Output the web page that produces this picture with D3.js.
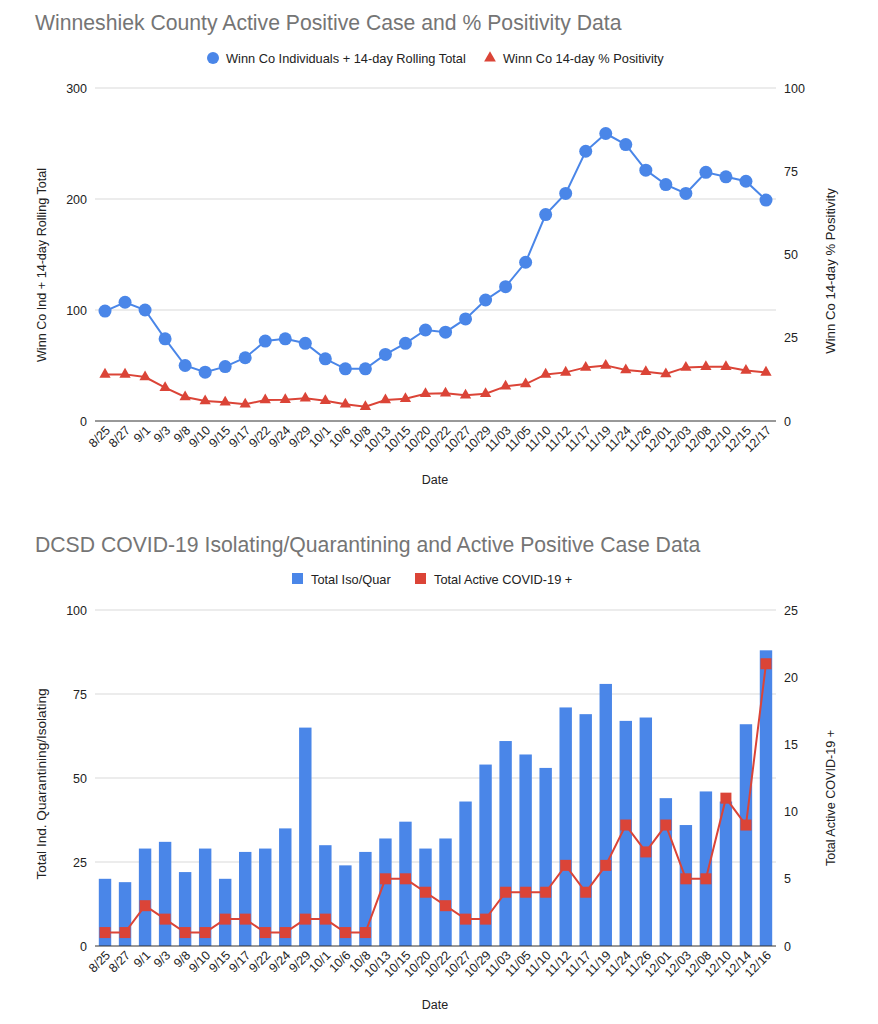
<!DOCTYPE html>
<html><head><meta charset="utf-8">
<script src="https://cdn.jsdelivr.net/npm/d3@7"></script>
<style>body{margin:0;background:#fff}svg{display:block;font-family:"Liberation Sans",Arial,sans-serif}</style>
</head><body><svg id="c" width="878" height="1024"></svg>
<script>
// ---- Top chart data ----
const datesTop = ["8/25","8/27","9/1","9/3","9/8","9/10","9/15","9/17","9/22","9/24","9/29","10/1","10/6","10/8","10/13","10/15","10/20","10/22","10/27","10/29","11/03","11/05","11/10","11/12","11/17","11/19","11/24","11/26","12/01","12/03","12/08","12/10","12/15","12/17"];
const rollingTotal = [99,107,100,74,50,44,49,57,72,74,70,56,47,47,60,70,82,80,92,109,121,143,186,205,243,259,249,226,213,205,224,220,216,199];
const positivity = [14,14,13.2,10,7.2,6,5.6,5,6.3,6.4,6.8,6.1,5,4.3,6.3,6.7,8.2,8.3,7.7,8.2,10.4,11.1,14,14.6,16.1,16.7,15.3,14.8,14.1,16.1,16.3,16.3,15.2,14.6];
const leftTicksTop = [0,100,200,300];
const rightTicksTop = [0,25,50,75,100];

// ---- Bottom chart data ----
const datesBot = ["8/25","8/27","9/1","9/3","9/8","9/10","9/15","9/17","9/22","9/24","9/29","10/1","10/6","10/8","10/13","10/15","10/20","10/22","10/27","10/29","11/03","11/05","11/10","11/12","11/17","11/19","11/24","11/26","12/01","12/03","12/08","12/10","12/14","12/16"];
const isoQuar = [20,19,29,31,22,29,20,28,29,35,65,30,24,28,32,37,29,32,43,54,61,57,53,71,69,78,67,68,44,36,46,43,66,88];
const activePos = [1,1,3,2,1,1,2,2,1,1,2,2,1,1,5,5,4,3,2,2,4,4,4,6,4,6,9,7,9,5,5,11,9,21];
const leftTicksBot = [0,25,50,75,100];
const rightTicksBot = [0,5,10,15,20,25];

const BLUE = "#4a86e8", RED = "#db4437", GRID = "#d9d9d9", AXIS = "#333", TXT = "#222", TITLE = "#757575";
const svg = d3.select("#c");
const L = 95, R = 776;

function axes(g, o) {
  const { yL, yR, ticksL, ticksR, dates, xf } = o;
  g.selectAll(".grid").data(ticksL.slice(1)).join("line")
    .attr("x1", L).attr("x2", R).attr("y1", d => yL(d)).attr("y2", d => yL(d))
    .attr("stroke", GRID).attr("stroke-width", 1);
  g.selectAll(".lt").data(ticksL).join("text").attr("x", L - 8).attr("y", d => yL(d) + 4.5)
    .attr("text-anchor", "end").attr("font-size", 12.5).attr("fill", TXT).text(d => d);
  g.selectAll(".rt").data(ticksR).join("text").attr("x", R + 8).attr("y", d => yR(d) + 4.5)
    .attr("text-anchor", "start").attr("font-size", 12.5).attr("fill", TXT).text(d => d);
  g.append("text").attr("transform", `translate(46,${o.leftCenter}) rotate(-90)`).attr("text-anchor", "middle")
    .attr("font-size", o.leftSize).attr("fill", TXT).text(o.leftTitle);
  g.append("text").attr("transform", `translate(835,${o.rightCenter}) rotate(-90)`).attr("text-anchor", "middle")
    .attr("font-size", o.rightSize).attr("fill", TXT).text(o.rightTitle);
  g.selectAll(".xl").data(dates).join("text")
    .attr("transform", d => `translate(${xf(d) + 6},${yL(0) + 10}) rotate(-45)`)
    .attr("text-anchor", "end").attr("font-size", 12.5).attr("fill", TXT).text(d => d);
  g.append("text").attr("x", 435).attr("y", o.dateY).attr("text-anchor", "middle").attr("font-size", 12.5).attr("fill", TXT).text("Date");
}

// ---- Top chart ----
{
  const g = svg.append("g");
  const top = 88, bottom = 421;
  const x = d3.scalePoint().domain(datesTop).range([L, R]).padding(0.5);
  const yL = d3.scaleLinear().domain([0, 300]).range([bottom, top]);
  const yR = d3.scaleLinear().domain([0, 100]).range([bottom, top]);
  g.append("text").attr("x", 35).attr("y", 30).attr("font-size", 21.2).attr("fill", TITLE)
    .text("Winneshiek County Active Positive Case and % Positivity Data");
  g.append("circle").attr("cx", 213).attr("cy", 58).attr("r", 6).attr("fill", BLUE);
  g.append("text").attr("x", 226).attr("y", 62.5).attr("font-size", 12.8).attr("fill", TXT).text("Winn Co Individuals + 14-day Rolling Total");
  g.append("path").attr("d", d3.symbol(d3.symbolTriangle, 60)()).attr("transform", "translate(490,58)").attr("fill", RED);
  g.append("text").attr("x", 503).attr("y", 62.5).attr("font-size", 12.8).attr("fill", TXT).text("Winn Co 14-day % Positivity");
  axes(g, { yL, yR, ticksL: leftTicksTop, ticksR: rightTicksTop, dates: datesTop, xf: d => x(d),
    leftTitle: "Winn Co Ind + 14-day Rolling Total", leftSize: 12.6, leftCenter: 265,
    rightTitle: "Winn Co 14-day % Positivity", rightSize: 13.2, rightCenter: 271, dateY: 484 });
  g.append("line").attr("x1", L).attr("x2", R).attr("y1", yL(0)).attr("y2", yL(0)).attr("stroke", AXIS).attr("stroke-width", 1);
  const lineB = d3.line().x((d, i) => x(datesTop[i])).y(d => yL(d));
  g.append("path").attr("d", lineB(rollingTotal)).attr("fill", "none").attr("stroke", BLUE).attr("stroke-width", 2);
  g.selectAll(".pb").data(rollingTotal).join("circle").attr("cx", (d, i) => x(datesTop[i])).attr("cy", d => yL(d)).attr("r", 6.5).attr("fill", BLUE);
  const lineR = d3.line().x((d, i) => x(datesTop[i])).y(d => yR(d));
  g.append("path").attr("d", lineR(positivity)).attr("fill", "none").attr("stroke", RED).attr("stroke-width", 2);
  g.selectAll(".pr").data(positivity).join("path").attr("d", d3.symbol(d3.symbolTriangle, 55)())
    .attr("transform", (d, i) => `translate(${x(datesTop[i])},${yR(d)})`).attr("fill", RED);
}

// ---- Bottom chart ----
{
  const g = svg.append("g");
  const top = 610, bottom = 946;
  const x = d3.scaleBand().domain(datesBot).range([L, R]).paddingInner(0.38).paddingOuter(0.19);
  const xc = d => x(d) + x.bandwidth() / 2;
  const yL = d3.scaleLinear().domain([0, 100]).range([bottom, top]);
  const yR = d3.scaleLinear().domain([0, 25]).range([bottom, top]);
  g.append("text").attr("x", 35).attr("y", 552).attr("font-size", 21.2).attr("fill", TITLE)
    .text("DCSD COVID-19 Isolating/Quarantining and Active Positive Case Data");
  g.append("rect").attr("x", 292).attr("y", 573).attr("width", 11).attr("height", 11).attr("fill", BLUE);
  g.append("text").attr("x", 311).attr("y", 583.5).attr("font-size", 12.8).attr("fill", TXT).text("Total Iso/Quar");
  g.append("rect").attr("x", 415).attr("y", 573).attr("width", 11).attr("height", 11).attr("fill", RED);
  g.append("text").attr("x", 434).attr("y", 583.5).attr("font-size", 12.8).attr("fill", TXT).text("Total Active COVID-19 +");
  axes(g, { yL, yR, ticksL: leftTicksBot, ticksR: rightTicksBot, dates: datesBot, xf: xc,
    leftTitle: "Total Ind. Quarantining/Isolating", leftSize: 13.6, leftCenter: 784,
    rightTitle: "Total Active COVID-19 +", rightSize: 12.6, rightCenter: 798, dateY: 1009 });
  g.selectAll(".bar").data(isoQuar).join("rect")
    .attr("x", (d, i) => x(datesBot[i])).attr("width", x.bandwidth())
    .attr("y", d => yL(d)).attr("height", d => yL(0) - yL(d)).attr("fill", BLUE);
  g.append("line").attr("x1", L).attr("x2", R).attr("y1", yL(0)).attr("y2", yL(0)).attr("stroke", AXIS).attr("stroke-width", 1);
  const lineR = d3.line().x((d, i) => xc(datesBot[i])).y(d => yR(d));
  g.append("path").attr("d", lineR(activePos)).attr("fill", "none").attr("stroke", RED).attr("stroke-width", 2);
  g.selectAll(".sq").data(activePos).join("rect").attr("x", (d, i) => xc(datesBot[i]) - 5.5).attr("y", d => yR(d) - 5.5)
    .attr("width", 11).attr("height", 11).attr("fill", RED);
}
</script></body></html>
